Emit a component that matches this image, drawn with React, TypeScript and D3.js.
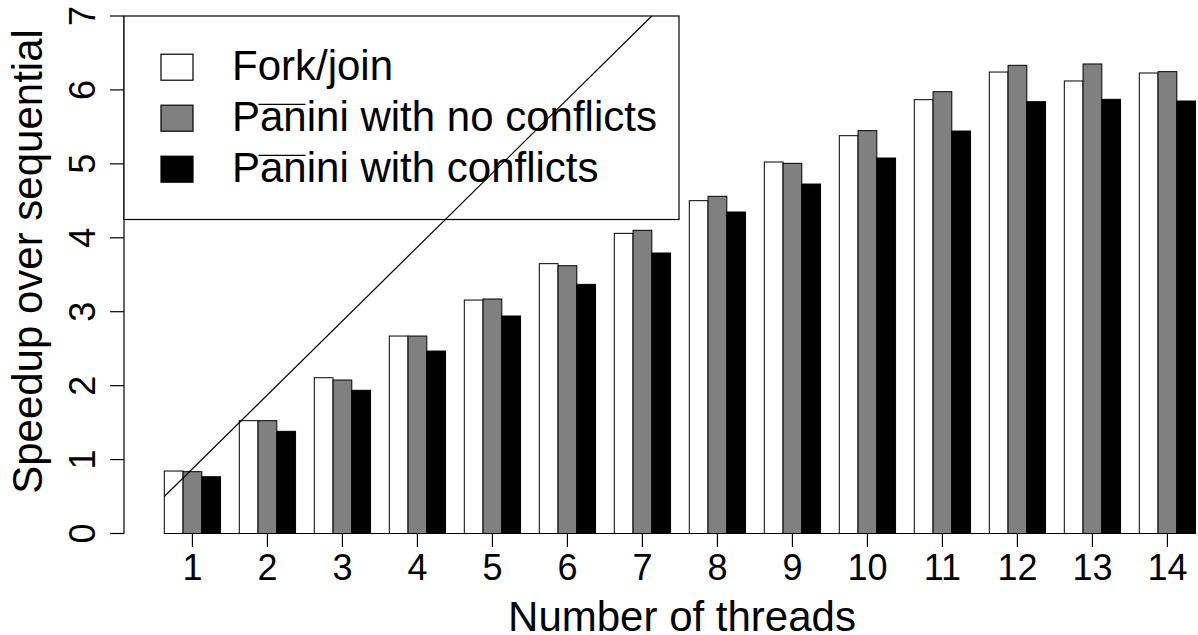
import React from "react";
import * as d3 from "d3";

const threads = [1, 2, 3, 4, 5, 6, 7, 8, 9, 10, 11, 12, 13, 14];
const seriesNames = ["Fork/join", "Pānini with no conflicts", "Pānini with conflicts"];
const seriesColors = ["#ffffff", "#808080", "#000000"];
const forkJoin = [0.845, 1.526, 2.107, 2.671, 3.158, 3.65, 4.06, 4.502, 5.025, 5.381, 5.868, 6.242, 6.121, 6.229];
const paniniNoConflicts = [0.836, 1.526, 2.076, 2.671, 3.172, 3.622, 4.101, 4.561, 5.007, 5.449, 5.976, 6.333, 6.351, 6.247];
const paniniConflicts = [0.768, 1.382, 1.937, 2.468, 2.942, 3.37, 3.794, 4.349, 4.727, 5.079, 5.444, 5.841, 5.873, 5.85];
const yTicks = [0, 1, 2, 3, 4, 5, 6, 7];
const idealLine = [
  { threads: 0.625, speedup: 0.5 },
  { threads: 7.125, speedup: 7 },
];

const W = 1198;
const H = 635;
const FONT = "'Liberation Sans', Arial, Helvetica, sans-serif";

export default function App() {
  const series = [forkJoin, paniniNoConflicts, paniniConflicts];
  const y = d3.scaleLinear().domain([0, 7]).range([533.5, 16]);
  const x = d3
    .scaleBand<number>()
    .domain(threads)
    .range([164.3, 1195.55])
    .paddingInner(0.25)
    .paddingOuter(0);
  const xs = d3
    .scaleBand<number>()
    .domain([0, 1, 2])
    .range([0, x.bandwidth()])
    .padding(0);
  const center = (t: number) => (x(t) as number) + x.bandwidth() / 2;
  const tx = d3.scaleLinear().domain([1, 14]).range([center(1), center(14)]);
  const line = d3
    .line<{ threads: number; speedup: number }>()
    .x((d) => tx(d.threads))
    .y((d) => y(d.speedup));

  const axisX = 124;
  const legendX = 232;
  const legendFont = 42;
  const tickFont = 36;
  const titleFont = 42;

  return (
    <svg
      width={W}
      height={H}
      style={{ position: "absolute", left: 0, top: 0, background: "#fff" }}
      fontFamily={FONT}
    >
      {/* bars */}
      {threads.map((t, i) => (
        <g key={t} transform={`translate(${x(t)},0)`}>
          {series.map((s, k) => (
            <rect
              key={k}
              x={xs(k)}
              y={y(s[i])}
              width={xs.bandwidth()}
              height={y(0) - y(s[i])}
              fill={seriesColors[k]}
              stroke="#000"
              strokeWidth={1}
            />
          ))}
        </g>
      ))}

      {/* x axis */}
      <line
        x1={x(threads[0])}
        x2={(x(threads[threads.length - 1]) as number) + x.bandwidth()}
        y1={y(0)}
        y2={y(0)}
        stroke="#000"
        strokeWidth={1.2}
      />
      {threads.map((t) => (
        <g key={t}>
          <line x1={center(t)} x2={center(t)} y1={y(0)} y2={y(0) + 13.5} stroke="#000" strokeWidth={1.2} />
          <text x={center(t)} y={579.5} textAnchor="middle" fontSize={tickFont} fill="#000">
            {t}
          </text>
        </g>
      ))}
      <text x={682} y={630.5} textAnchor="middle" fontSize={titleFont} fill="#000">
        Number of threads
      </text>

      {/* y axis */}
      <line x1={axisX} x2={axisX} y1={y(0)} y2={y(7)} stroke="#000" strokeWidth={1.2} />
      {yTicks.map((v) => (
        <g key={v}>
          <line x1={axisX - 14} x2={axisX} y1={y(v)} y2={y(v)} stroke="#000" strokeWidth={1.2} />
          <text
            transform={`translate(94.5,${y(v)}) rotate(-90)`}
            textAnchor="middle"
            fontSize={tickFont}
            fill="#000"
          >
            {v}
          </text>
        </g>
      ))}
      <text
        transform={`translate(42,261.5) rotate(-90)`}
        textAnchor="middle"
        fontSize={titleFont}
        fill="#000"
      >
        Speedup over sequential
      </text>

      {/* legend */}
      <rect x={axisX} y={16} width={679 - axisX} height={219.5 - 16} fill="#fff" stroke="#000" strokeWidth={1.2} />
      {seriesNames.map((name, k) => {
        const cy = 67.2 + k * 51;
        const base = cy + 12.3;
        const bar = name.startsWith("P");
        return (
          <g key={k}>
            <rect x={161} y={cy - 13} width={32} height={26} fill={seriesColors[k]} stroke="#000" strokeWidth={1.2} />
            <text x={legendX} y={base} fontSize={legendFont} fill="#000">
              {bar ? "Panini" + name.slice(6) : name}
            </text>
            {bar && (
              <line
                x1={legendX + 0.63 * legendFont}
                x2={legendX + 1.75 * legendFont}
                y1={base - 0.62 * legendFont}
                y2={base - 0.62 * legendFont}
                stroke="#000"
                strokeWidth={1.3}
              />
            )}
          </g>
        );
      })}

      {/* ideal speedup line */}
      <path d={line(idealLine) || ""} fill="none" stroke="#000" strokeWidth={1.2} />
    </svg>
  );
}
